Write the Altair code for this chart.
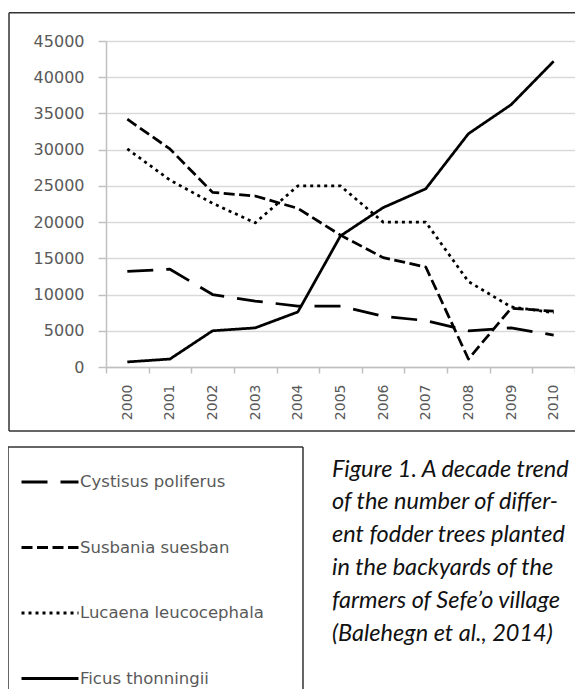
import altair as alt
import pandas as pd

years = [str(y) for y in range(2000, 2011)]
series_names = ["Cystisus poliferus", "Susbania suesban", "Lucaena leucocephala", "Ficus thonningii"]
cystisus = [13200, 13500, 10000, 9100, 8400, 8400, 7000, 6400, 5000, 5400, 4400]
susbania = [34200, 30100, 24100, 23600, 21900, 18200, 15100, 13800, 1100, 8100, 7700]
lucaena = [30100, 25800, 22600, 19900, 25000, 25000, 20000, 20000, 11800, 8300, 7500]
ficus = [700, 1100, 5000, 5400, 7600, 18100, 22000, 24600, 32200, 36200, 42200]
y_ticks = list(range(0, 45001, 5000))
caption_lines = [
    "Figure 1. A decade trend",
    "of the number of differ-",
    "ent fodder trees planted",
    "in the backyards of the",
    "farmers of Sefe\u2019o village",
    "(Balehegn et al., 2014)",
]

rows = []
for name, vals in zip(series_names, [cystisus, susbania, lucaena, ficus]):
    for yr, v in zip(years, vals):
        rows.append({"Year": yr, "Series": name, "Trees": v})
df = pd.DataFrame(rows)

W, H = 469, 326

lines = alt.Chart(df).mark_line(
    color="black", strokeWidth=2.75, strokeCap="butt", strokeJoin="round"
).encode(
    x=alt.X(
        "Year:O",
        scale=alt.Scale(type="band", paddingInner=0, paddingOuter=0),
        axis=alt.Axis(
            title=None, labelAngle=270, tickBand="extent", grid=False,
            labelFontSize=14, labelPadding=11, tickSize=6,
        ),
    ),
    y=alt.Y(
        "Trees:Q",
        scale=alt.Scale(domain=[0, 45000], nice=False),
        axis=alt.Axis(
            title=None, values=y_ticks, format="d", grid=True, labelFontSize=16,
            tickSize=8, labelPadding=14,
        ),
    ),
    strokeDash=alt.StrokeDash(
        "Series:N",
        scale=alt.Scale(domain=series_names, range=[[26, 13], [11, 4.5], [3, 4], [1, 0]]),
        legend=alt.Legend(
            title=None, orient="none", legendX=-86, legendY=411,
            symbolType="stroke", symbolSize=3249, symbolStrokeWidth=3,
            symbolStrokeColor="black", labelFont="DejaVu Sans", labelFontSize=16.5,
            labelColor="#595959", labelOffset=0, rowPadding=26.5, padding=0,
            labelLimit=400,
        ),
    ),
)

caption = alt.Chart(pd.DataFrame({"t": ["\n".join(caption_lines)]})).mark_text(
    align="left", baseline="alphabetic", lineBreak="\n", lineHeight=32.8,
    font="Lato", fontStyle="italic", fontSize=23.5, color="#111111",
).encode(text="t:N", x=alt.value(226), y=alt.value(435.7))


def hrule(x, x2, y):
    return alt.Chart(pd.DataFrame({"a": [0]})).mark_rule(color="#333333", strokeWidth=1.5).encode(
        x=alt.value(x), x2=alt.value(x2), y=alt.value(y), y2=alt.value(y)
    )


def vrule(x, y, y2):
    return alt.Chart(pd.DataFrame({"a": [0]})).mark_rule(color="#333333", strokeWidth=1.5).encode(
        x=alt.value(x), x2=alt.value(x), y=alt.value(y), y2=alt.value(y2)
    )


boxes = [
    hrule(-97, 480, -28.3),
    hrule(-97, 480, 390),
    vrule(-97, -28.3, 390),
    hrule(-98, 197, 406),
    vrule(-98, 406, 700),
    vrule(197, 406, 700),
]

chart = alt.layer(lines, caption, *boxes).properties(
    width=W, height=H,
    padding={"left": 98, "top": 33, "right": 0, "bottom": 322},
    autosize=alt.AutoSizeParams(type="none"),
    background="white",
).configure_axis(
    labelFont="DejaVu Sans", labelColor="#595959", domainColor="#c0c0c0",
    tickColor="#c0c0c0", gridColor="#d9d9d9", gridWidth=1.5, domainWidth=1.5,
    tickWidth=1.5,
).configure_view(stroke="transparent")

chart.save("out.html", embed_options={"renderer": "svg", "actions": False})
